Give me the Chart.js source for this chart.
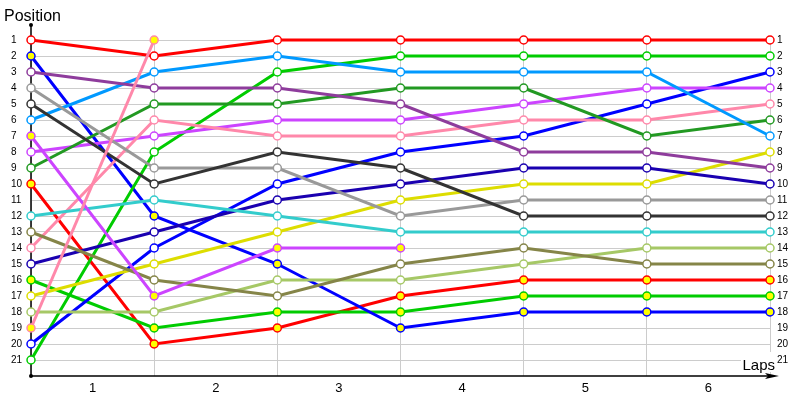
<!DOCTYPE html>
<html>
<head>
<meta charset="utf-8">
<script src="https://cdn.jsdelivr.net/npm/chart.js@4"></script>
<style>
  html, body { margin: 0; padding: 0; background: #fff; }
  #wrap { width: 800px; height: 400px; }
</style>
</head>
<body>
<div id="wrap"><canvas id="posChart" width="800" height="400"></canvas></div>
<script>
// Laps (x values) and tick labels
const laps = [0, 1, 2, 3, 4, 5, 6];
const lapLabels = ['1', '2', '3', '4', '5', '6'];
const positions = [1, 2, 3, 4, 5, 6, 7, 8, 9, 10, 11, 12, 13, 14, 15, 16, 17, 18, 19, 20, 21];

// Position of each driver after every lap (null = out)
const redLead   = [1, 2, 1, 1, 1, 1, 1];
const green     = [21, 8, 3, 2, 2, 2, 2];
const blue      = [20, 14, 10, 8, 7, 5, 3];
const violet    = [8, 7, 6, 6, 5, 4, 4];
const pink      = [14, 6, 7, 7, 6, 6, 5];
const darkGreen = [9, 5, 5, 4, 4, 7, 6];
const skyBlue   = [6, 3, 2, 3, 3, 3, 7];
const yellow    = [17, 15, 13, 11, 10, 10, 8];
const purple    = [3, 4, 4, 5, 8, 8, 9];
const navy      = [15, 13, 11, 10, 9, 9, 10];
const gray      = [4, 9, 9, 12, 11, 11, 11];
const dark      = [5, 10, 8, 9, 12, 12, 12];
const cyan      = [12, 11, 12, 13, 13, 13, 13];
const lightGrn  = [18, 18, 16, 16, 15, 14, 14];
const olive     = [13, 16, 17, 15, 14, 15, 15];
const redBack   = [10, 20, 19, 17, 16, 16, 16];
const greenBack = [16, 19, 18, 18, 17, 17, 17];
const blueBack  = [2, 12, 15, 19, 18, 18, 18];
const violetOut = [7, 17, 14, 14, null, null, null];
const pinkOut   = [19, 1, null, null, null, null, null];

const GRID = '#cccccc';
const tickFont = { family: '"Liberation Sans", Arial, sans-serif', size: 10 };

// name, data, colour, yellow marker?
const drivers = [
  ['Pink 2', pinkOut, '#ff88aa', true],
  ['Violet 2', violetOut, '#cc44ff', true],
  ['Olive', olive, '#858548', false],
  ['Light green', lightGrn, '#a6c866', false],
  ['Cyan', cyan, '#33cccc', false],
  ['Dark', dark, '#333333', false],
  ['Gray', gray, '#999999', false],
  ['Navy', navy, '#1a00b0', false],
  ['Purple', purple, '#8e3c9c', false],
  ['Yellow', yellow, '#dddd00', false],
  ['Sky blue', skyBlue, '#0099ff', false],
  ['Dark green', darkGreen, '#229922', false],
  ['Pink', pink, '#ff88aa', false],
  ['Violet', violet, '#cc44ff', false],
  ['Blue', blue, '#0000ff', false],
  ['Green', green, '#00cc00', false],
  ['Blue 2', blueBack, '#0000ff', true],
  ['Green 2', greenBack, '#00cc00', true],
  ['Red 2', redBack, '#ff0000', true],
  ['Red', redLead, '#ff0000', false]
];

const datasets = drivers.map(([name, pos, color, filled]) => ({
  label: name,
  data: pos.map((p, i) => ({ x: laps[i], y: p })),
  borderColor: color,
  borderWidth: 3,
  pointRadius: 4,
  pointBorderWidth: 1.5,
  pointBorderColor: color,
  pointBackgroundColor: filled ? '#ffff00' : '#ffffff',
  tension: 0,
  spanGaps: false,
  clip: false
}));

// Axes with arrow, dots and the two titles
const decor = {
  id: 'decor',
  beforeDatasetsDraw(chart) {
    const ctx = chart.ctx;
    const a = chart.chartArea;
    ctx.save();
    ctx.strokeStyle = '#000';
    ctx.fillStyle = '#000';
    ctx.lineWidth = 1.5;
    ctx.beginPath();
    ctx.moveTo(a.left, 25);
    ctx.lineTo(a.left, a.bottom);
    ctx.lineTo(772, a.bottom);
    ctx.stroke();
    // arrow head
    ctx.beginPath();
    ctx.moveTo(779, a.bottom);
    ctx.lineTo(765, a.bottom - 3);
    ctx.lineTo(768, a.bottom);
    ctx.lineTo(765, a.bottom + 3);
    ctx.closePath();
    ctx.fill();
    // dots
    ctx.beginPath();
    ctx.arc(a.left, 25, 2, 0, Math.PI * 2);
    ctx.fill();
    ctx.beginPath();
    ctx.arc(a.left, a.bottom, 2, 0, Math.PI * 2);
    ctx.fill();
    ctx.restore();
  },
  afterDraw(chart) {
    const ctx = chart.ctx;
    ctx.save();
    ctx.fillStyle = '#fff';
    ctx.fillRect(741, 352, 34, 20);
    ctx.fillStyle = '#000';
    ctx.textBaseline = 'alphabetic';
    ctx.font = '16px "Liberation Sans", Arial, sans-serif';
    ctx.textAlign = 'left';
    ctx.fillText('Position', 4, 21);
    ctx.font = '15px "Liberation Sans", Arial, sans-serif';
    ctx.textAlign = 'right';
    ctx.fillText('Laps', 775, 370);
    ctx.restore();
  }
};

const yBase = {
  type: 'linear',
  reverse: true,
  min: 0.75,
  max: 22,
  afterBuildTicks: s => { s.ticks = positions.map(v => ({ value: v })); },
  border: { display: false },
  ticks: { autoSkip: false, font: tickFont, color: '#000', callback: v => String(v) }
};

new Chart(document.getElementById('posChart').getContext('2d'), {
  type: 'line',
  data: { datasets: datasets },
  options: {
    responsive: false,
    animation: false,
    layout: { padding: { top: 36, left: 11, right: 0, bottom: 0 } },
    plugins: {
      legend: { display: false },
      tooltip: { enabled: false }
    },
    scales: {
      x: {
        type: 'linear',
        min: 0,
        max: 6,
        afterBuildTicks: s => {
          // grid at whole laps, labels in between
          const t = [];
          laps.forEach(v => {
            t.push({ value: v });
            if (v < 6) t.push({ value: v + 0.5 });
          });
          s.ticks = t;
        },
        afterFit: s => { s.height = 24; },
        border: { display: false },
        grid: {
          color: c => (c.tick && c.tick.value % 1 === 0) ? GRID : 'rgba(0,0,0,0)',
          drawTicks: false
        },
        ticks: {
          autoSkip: false,
          maxRotation: 0,
          padding: 5,
          color: '#000',
          font: { family: '"Liberation Sans", Arial, sans-serif', size: 13 },
          callback: v => (v % 1 ? lapLabels[Math.floor(v)] : '')
        }
      },
      y: Object.assign({}, yBase, {
        position: 'left',
        afterFit: s => { s.width = 20; },
        grid: { color: GRID, drawTicks: false },
        ticks: Object.assign({}, yBase.ticks, { padding: 4, crossAlign: 'far' })
      }),
      y2: Object.assign({}, yBase, {
        position: 'right',
        afterFit: s => { s.width = 30; },
        grid: { display: false, drawTicks: false },
        ticks: Object.assign({}, yBase.ticks, { padding: 7 })
      })
    }
  },
  plugins: [decor]
});
</script>
</body>
</html>
